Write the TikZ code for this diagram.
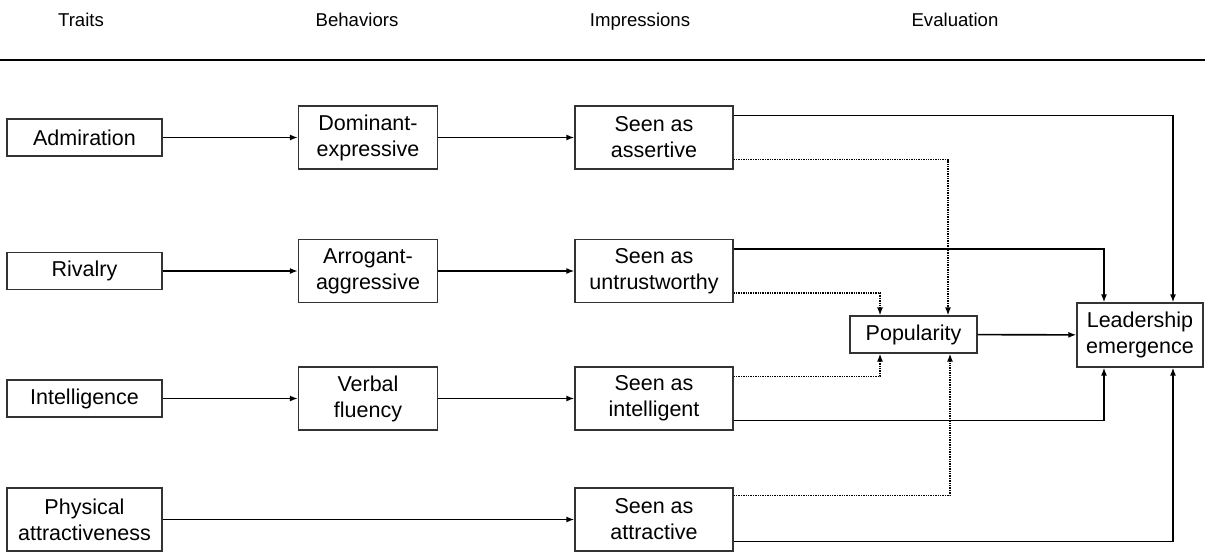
\documentclass[tikz,border=0pt]{standalone}
\usepackage{fontspec}
\setmainfont{Liberation Sans}
\usetikzlibrary{arrows.meta}
\begin{document}
\begin{tikzpicture}[x=1pt, y=-1pt,
  box/.style={draw=black!80, line width=1.2pt, align=center, inner sep=0pt,
    font=\fontsize{21.5}{26}\selectfont},
  head/.style={anchor=base, font=\fontsize{18.6}{22}\selectfont},
  link/.style={line width=1.6pt, -{Latex[length=8pt,width=6pt]}},
  weak/.style={line width=1.4pt, densely dotted, -{Latex[length=8pt,width=6pt]}}]
\useasboundingbox (0,0) rectangle (1205,552);
\node[head] (h1) at (81, 26) {Traits};
\node[head] (h2) at (357, 26) {Behaviors};
\node[head] (h3) at (640, 26) {Impressions};
\node[head] (h4) at (955, 26) {Evaluation};
\coordinate (r0) at (0, 60);
\coordinate (r1) at (1205, 60);
\draw[line width=2.6pt] (r0) -- (r1);
\node[box, minimum width=155pt, minimum height=37pt] (adm) at (84.5, 137.5) {Admiration};
\node[box, minimum width=155pt, minimum height=37pt] (riv) at (84.5, 271) {Rivalry};
\node[box, minimum width=155pt, minimum height=37pt] (intl) at (84.5, 398.5) {Intelligence};
\node[box, minimum width=155pt, minimum height=63pt] (phys) at (84.5, 519.5) {Physical\\attractiveness};
\node[box, minimum width=139pt, minimum height=63pt] (dom) at (368, 137.5) {Dominant-\\expressive};
\node[box, minimum width=139pt, minimum height=63pt] (arr) at (368, 271) {Arrogant-\\aggressive};
\node[box, minimum width=139pt, minimum height=63pt] (verb) at (368, 398.5) {Verbal\\fluency};
\node[box, minimum width=158pt, minimum height=63pt] (sass) at (654, 137.5) {Seen as\\assertive};
\node[box, minimum width=158pt, minimum height=63pt] (sunt) at (654, 271) {Seen as\\untrustworthy};
\node[box, minimum width=158pt, minimum height=63pt] (sint) at (654, 398.5) {Seen as\\intelligent};
\node[box, minimum width=158pt, minimum height=63pt] (satt) at (654, 519.5) {Seen as\\attractive};
\node[box, minimum width=127pt, minimum height=37pt] (pop) at (913.5, 334.5) {Popularity};
\node[box, minimum width=126pt, minimum height=64pt] (lead) at (1140, 335) {Leadership\\emergence};
% traits to behaviors to impressions
\draw[link] (adm) -- (dom);
\draw[link] (dom) -- (sass);
\draw[link] (riv) -- (arr);
\draw[link] (arr) -- (sunt);
\draw[link] (intl) -- (verb);
\draw[link] (verb) -- (sint);
\draw[link] (phys) -- (satt);
% impressions to evaluation
\draw[link] ([yshift=22pt]sass.east) -| ([xshift=33pt]lead.north);
\draw[link] ([yshift=22pt]sunt.east) -| ([xshift=-36pt]lead.north);
\draw[link] ([yshift=-22pt]sint.east) -| ([xshift=-36pt]lead.south);
\draw[link] ([yshift=-22pt]satt.east) -| ([xshift=33pt]lead.south);
\draw[weak] ([yshift=-22pt]sass.east) -| ([xshift=34.5pt]pop.north);
\draw[weak] ([yshift=-22pt]sunt.east) -| ([xshift=-33.5pt]pop.north);
\draw[weak] ([yshift=22pt]sint.east) -| ([xshift=-33.5pt]pop.south);
\draw[weak] ([yshift=24pt]satt.east) -| ([xshift=36.5pt]pop.south);
\draw[link] (pop) -- (lead);
\end{tikzpicture}
\end{document}
